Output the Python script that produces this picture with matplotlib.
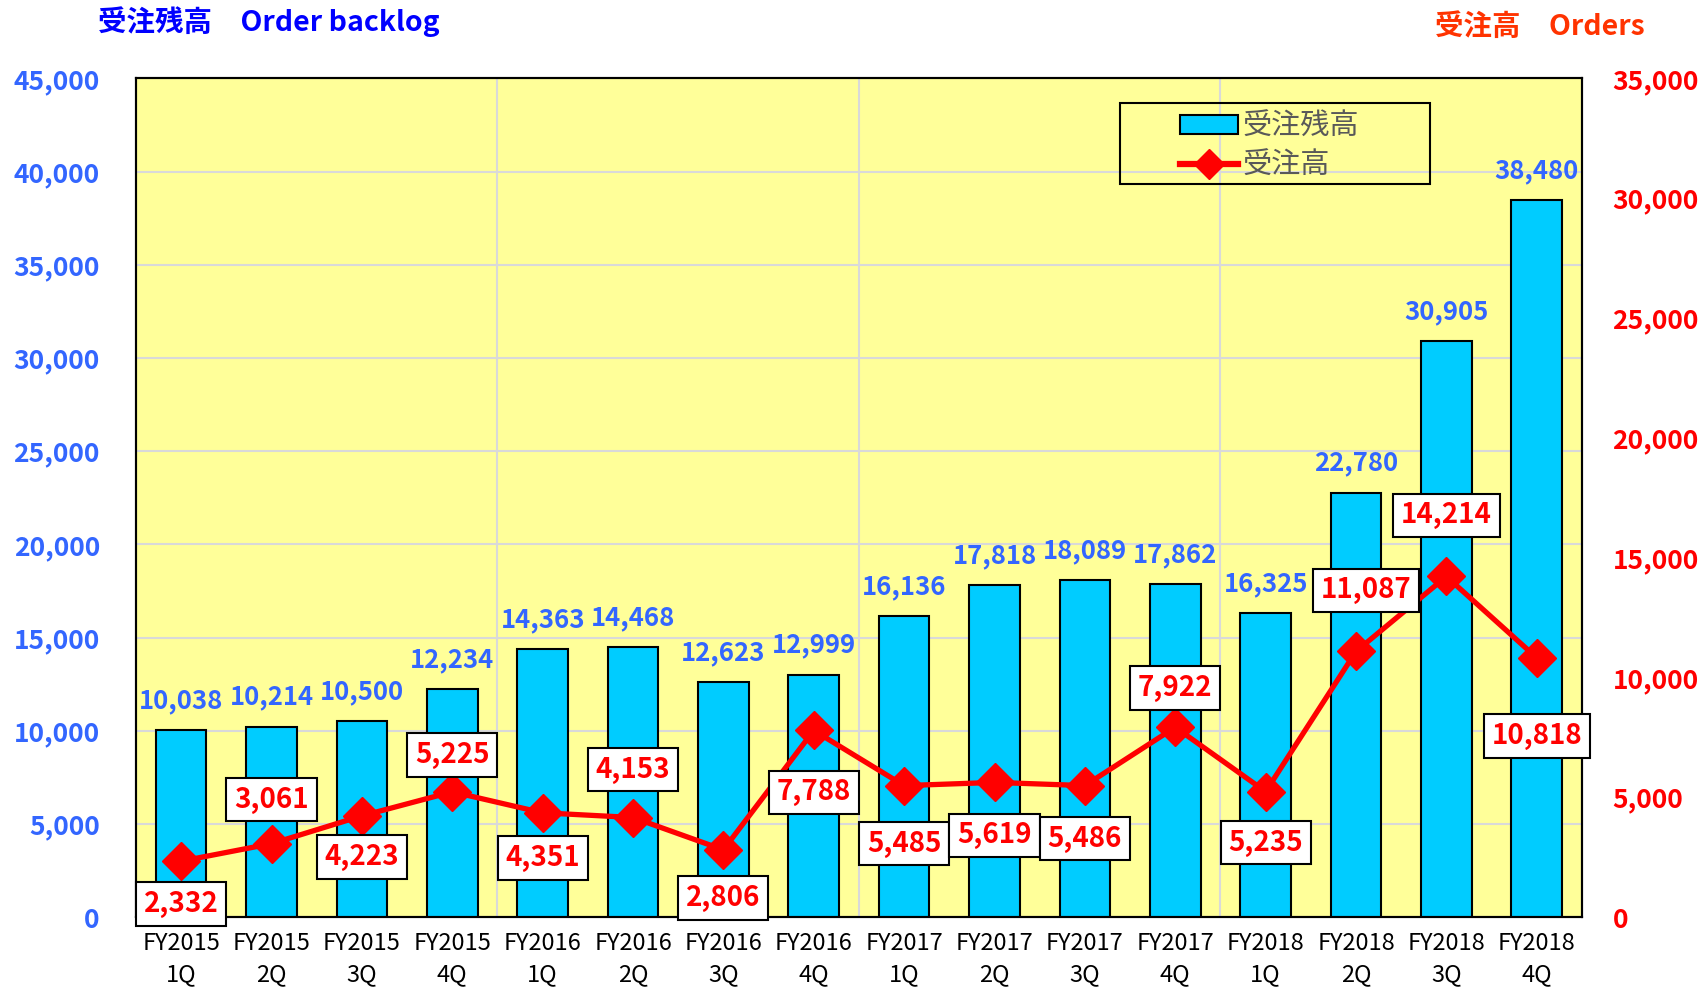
import matplotlib.pyplot as plt
from matplotlib.ticker import FuncFormatter
from matplotlib.lines import Line2D
from matplotlib.patches import Patch, Rectangle

plt.rcParams['font.family'] = ['Noto Sans CJK JP', 'DejaVu Sans']

quarters = ['FY2015\n1Q', 'FY2015\n2Q', 'FY2015\n3Q', 'FY2015\n4Q',
            'FY2016\n1Q', 'FY2016\n2Q', 'FY2016\n3Q', 'FY2016\n4Q',
            'FY2017\n1Q', 'FY2017\n2Q', 'FY2017\n3Q', 'FY2017\n4Q',
            'FY2018\n1Q', 'FY2018\n2Q', 'FY2018\n3Q', 'FY2018\n4Q']
backlog = [10038, 10214, 10500, 12234, 14363, 14468, 12623, 12999,
           16136, 17818, 18089, 17862, 16325, 22780, 30905, 38480]
orders = [2332, 3061, 4223, 5225, 4351, 4153, 2806, 7788,
          5485, 5619, 5486, 7922, 5235, 11087, 14214, 10818]

# label offsets (pixels) for the order boxes, as placed in the original
label_dy = [-43, 44, -41, 37, -45, 48, -48, -62, -58, -53, -53, 39, -51, 61, 61, -78]
label_dx = [0] * 16
label_dx[13] = 10

fig = plt.figure(figsize=(17.08, 9.93), dpi=100)
ax = fig.add_axes([0.0796, 0.0765, 0.8466, 0.8445])
ax.set_facecolor('#FFFF99')

x = list(range(len(quarters)))
ax.bar(x, backlog, width=0.56, color='#00CCFF', edgecolor='black', linewidth=1.5, zorder=3)
ax.set_xlim(-0.5, len(quarters) - 0.5)
ax.set_ylim(0, 45000)
ax.set_yticks(range(0, 45001, 5000))
ax.yaxis.set_major_formatter(FuncFormatter(lambda v, p: f'{int(v):,}'))
ax.grid(axis='y', color='#D9D9D9', linewidth=1.5, zorder=0)
for gx in [3.5, 7.5, 11.5]:
    ax.axvline(gx, color='#D9D9D9', linewidth=1.5, zorder=0)
ax.set_xticks(x)
ax.set_xticklabels(quarters, linespacing=1.42)
ax.tick_params(axis='x', length=0, pad=11, labelsize=17)
ax.tick_params(axis='y', length=0, pad=26, labelsize=19, labelcolor='#3366FF')
for t in ax.get_yticklabels():
    t.set_fontweight('bold')
for s in ax.spines.values():
    s.set_linewidth(1.5)

for i, v in enumerate(backlog):
    ax.annotate(f'{v:,}', (i, v), xytext=(0, 16), textcoords='offset pixels',
                ha='center', va='bottom', color='#3366FF', fontsize=18.5,
                fontweight='bold', zorder=4)

ax2 = ax.twinx()
ax2.plot(x, orders, color='#FF0000', linewidth=3.8, marker='D', markersize=19,
         markeredgecolor='#FF0000', zorder=5)
ax2.set_ylim(0, 35000)
ax2.set_yticks(range(0, 35001, 5000))
ax2.yaxis.set_major_formatter(FuncFormatter(lambda v, p: f'{int(v):,}'))
ax2.tick_params(axis='y', length=0, pad=22, labelsize=19, labelcolor='#FF0000')
for t in ax2.get_yticklabels():
    t.set_fontweight('bold')
for s in ax2.spines.values():
    s.set_linewidth(1.5)

for i, v in enumerate(orders):
    ax2.annotate(f'{v:,}', (i, v), xytext=(label_dx[i], label_dy[i]),
                 textcoords='offset pixels', ha='center', va='center',
                 color='#FF0000', fontsize=20, fontweight='bold', zorder=6,
                 bbox=dict(boxstyle='square,pad=0.28', fc='white', ec='black', lw=1.5))

# legend frame drawn separately, entries shifted right as in the original
fig.patches.append(Rectangle((1120 / 1708, 1 - 184 / 993), 310 / 1708, 81 / 993,
                             transform=fig.transFigure, fill=False,
                             edgecolor='black', linewidth=1.5, zorder=10))
handles = [Patch(facecolor='#00CCFF', edgecolor='black', linewidth=1.5),
           Line2D([], [], color='#FF0000', linewidth=4.5, marker='D', markersize=15)]
leg = fig.legend(handles, ['受注残高', '受注高'], loc='upper left',
                 bbox_to_anchor=(1180 / 1708, 1 - 112 / 993),
                 fontsize=21, frameon=False, borderpad=0.0,
                 labelspacing=0.3, handlelength=2.0, handleheight=0.6,
                 handletextpad=0.15, borderaxespad=0)
for t in leg.get_texts():
    t.set_color('#595959')

fig.text(98 / 1708, 1 - 22 / 993, '受注残高　Order backlog', color='#0000FF',
         fontsize=20.5, fontweight='bold', ha='left', va='center')
fig.text(1645 / 1708, 1 - 27 / 993, '受注高　Orders', color='#FF3300',
         fontsize=20.5, fontweight='bold', ha='right', va='center')

fig.savefig('out.png', dpi=100)
